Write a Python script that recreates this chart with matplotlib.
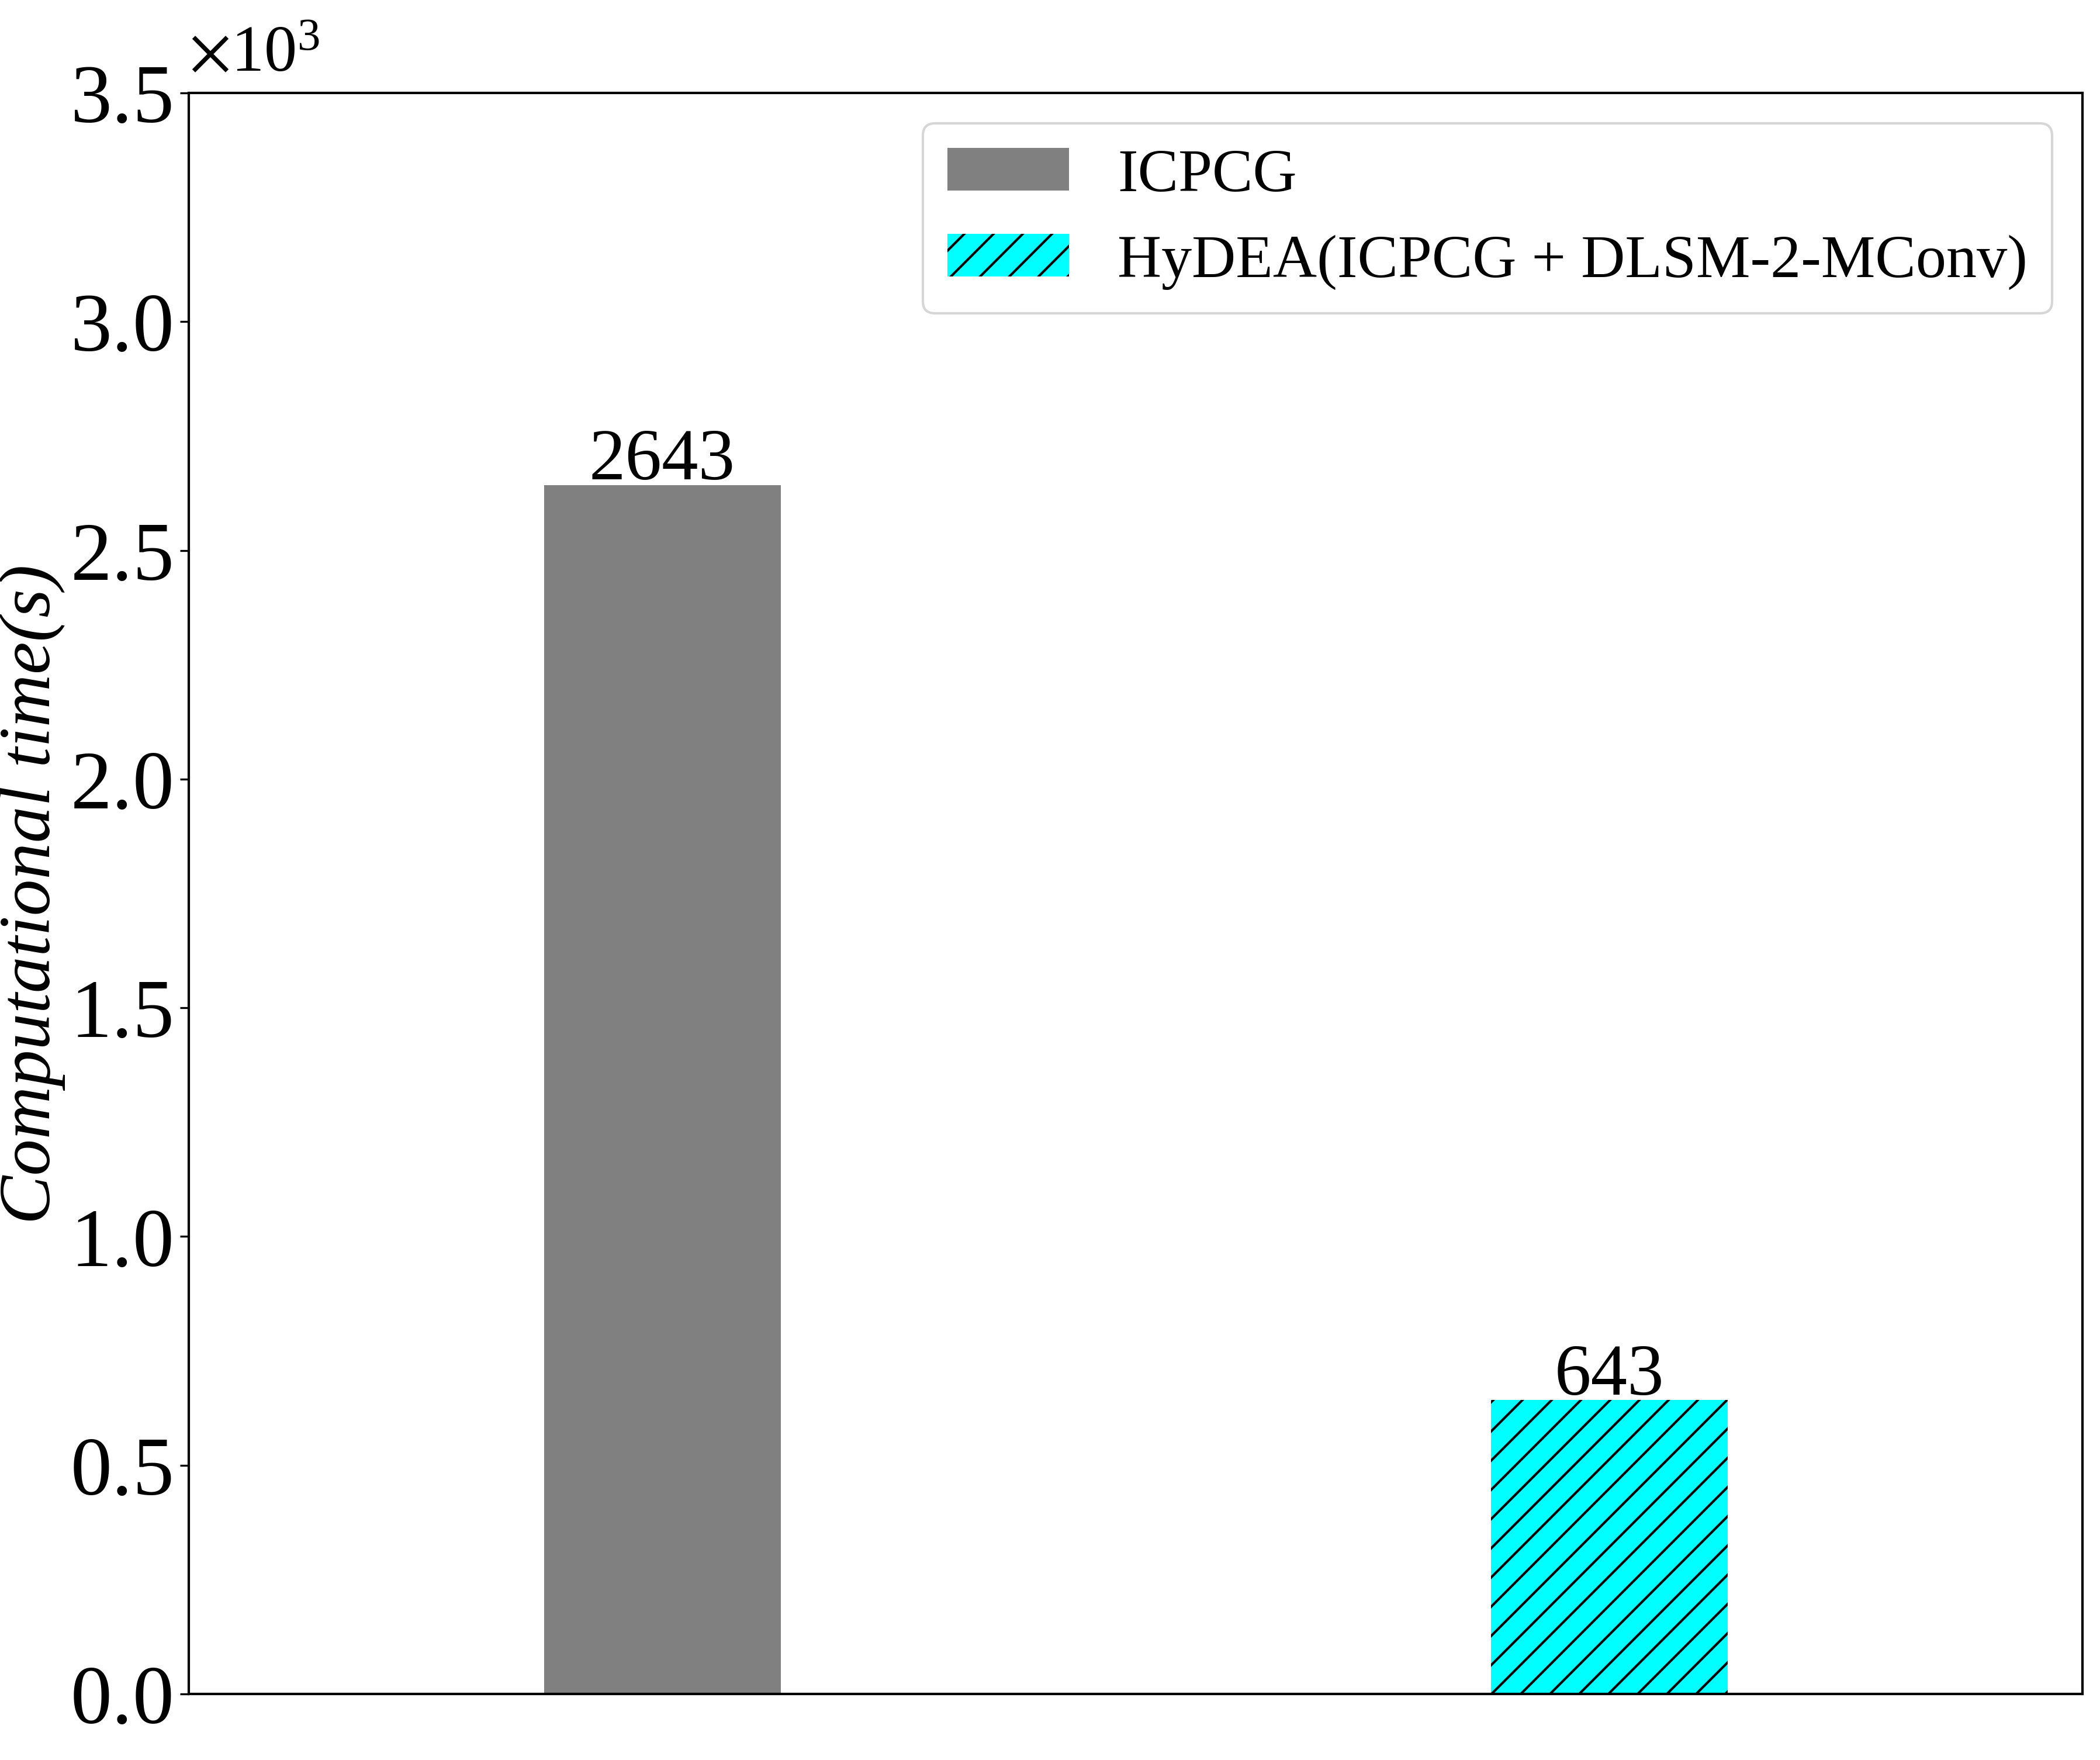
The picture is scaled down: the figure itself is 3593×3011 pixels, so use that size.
import numpy as np
import matplotlib
matplotlib.use("Agg")
import matplotlib.pyplot as plt

# DATA
methods = ["ICPCG", "HyDEA(ICPCG + DLSM-2-MConv)"]
times = [2643, 643]
colors = ["grey", "cyan"]
hatches = ["", "//"]

plt.rcParams["font.family"] = ["Liberation Serif", "DejaVu Serif"]
plt.rcParams["mathtext.fontset"] = "stix"

fig = plt.figure(figsize=(3593 / 300, 3012 / 300), dpi=300)
ax = fig.add_axes([0.0899, 0.0375, 0.9018, 0.9094])

x = np.arange(len(methods))
for i in range(len(methods)):
    ax.bar(x[i], times[i], width=0.25, color=colors[i], hatch=hatches[i],
           edgecolor="black", linewidth=0, label=methods[i])
    ax.annotate(str(times[i]), (x[i], times[i]), xytext=(0, -4), textcoords="offset points",
                ha="center", va="bottom", fontsize=30)

ax.set_xlim(-0.5, 1.5)
ax.set_ylim(0, 3500)
ax.set_xticks([])
ax.ticklabel_format(style="sci", axis="y", scilimits=(0, 0), useMathText=True)
ax.tick_params(axis="y", labelsize=34)
ax.yaxis.get_offset_text().set_fontsize(27)
ax.yaxis.OFFSETTEXTPAD = 9
ax.set_ylabel("Computational time(s)", fontsize=30, style="italic")
ax.yaxis.set_label_coords(-0.065, 0.5)

for s in ax.spines.values():
    s.set_linewidth(1.0)

ax.legend(loc="upper right", fontsize=25)

fig.savefig("out.png", dpi=300)
